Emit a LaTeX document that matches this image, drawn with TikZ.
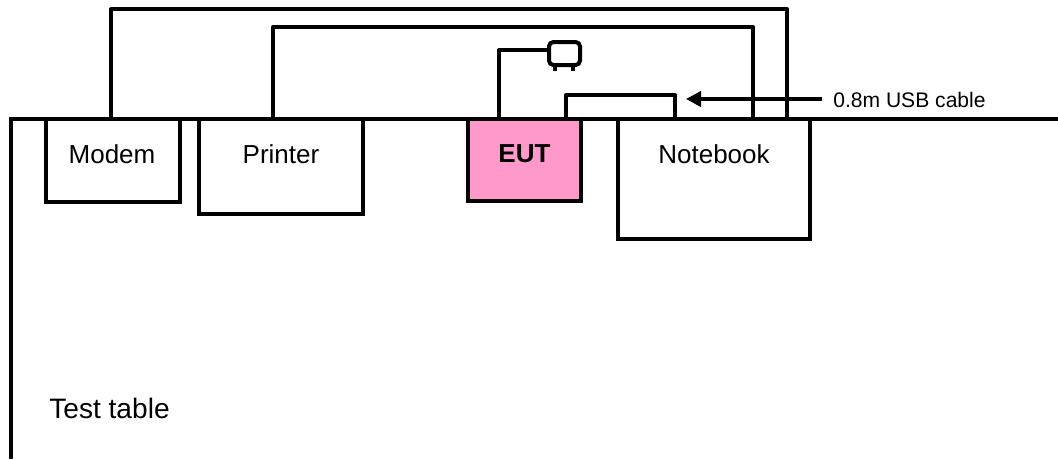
\documentclass[tikz,border=0pt]{standalone}
\usepackage{xcolor}
\usepackage{fontspec}
\setmainfont{Liberation Sans}
\usetikzlibrary{arrows.meta, positioning}
\definecolor{eutpink}{HTML}{FF99CC}

\begin{document}
\begin{tikzpicture}[
  x=0.25mm, y=-0.25mm,
  >={Stealth[length=3.75mm, width=3.8mm, inset=0pt]},
  box/.style={draw, line width=1mm, outer sep=0pt, inner sep=0pt},
  cable/.style={line width=1mm, line join=round},
  boxlbl/.style={font=\fontsize{18.5}{22}\selectfont, inner sep=0pt},
  notelbl/.style={font=\fontsize{15}{18}\selectfont, inner sep=0pt, anchor=west},
]
\useasboundingbox (0,0) rectangle (1058,459);
% table edge
\coordinate (tablefoot) at (11,459);
\coordinate (tableend) at (1058,119);
\draw[line width=0.9mm] (tablefoot) |- (tableend);
% equipment on the table
\node[box, minimum width=33.5mm, minimum height=20.75mm] (modem) at (113,160.5) {};
\node[box, minimum width=41mm, minimum height=23.75mm] (printer) at (281,166.5) {};
\node[box, fill=eutpink, minimum width=28.25mm, minimum height=20.5mm] (eut) at (524.5,160) {};
\node[box, minimum width=48mm, minimum height=30mm] (notebook) at (714,179) {};
\node[box, rounded corners=1.1mm, minimum width=7.75mm, minimum height=5.75mm] (screen) at (564.5,53.5) {};
\node[boxlbl] (modemlbl) at (112,154) {Modem};
\node[boxlbl] (printerlbl) at (281,154) {Printer};
\node[boxlbl, font=\fontsize{18.5}{22}\selectfont\bfseries] (eutlbl) at (524.5,154) {EUT};
\node[boxlbl] (notebooklbl) at (714,154) {Notebook};
\node[boxlbl, font=\fontsize{20}{24}\selectfont] (tablelbl) at (109.5,408) {Test table};
\node[notelbl] (usblbl) at (833,100) {0.8m USB cable};
% cable ends
\coordinate (modemport) at (111,119);
\coordinate (nbmodem) at (787,119);
\coordinate (printerport) at (273,119);
\coordinate (nbprinter) at (753,119);
\coordinate (eutport) at (499,119);
\coordinate (screenport) at (549,50);
\coordinate (usbeut) at (566,119);
\coordinate (usbnb) at (675,119);
\coordinate (usbmark) at (686,99);
\coordinate (footl) at (555,71);
\coordinate (footr) at (573,71);
% cables
\draw[cable] (modemport) -- (111,9) -- (787,9) -- (nbmodem);
\draw[cable] (printerport) -- (273,27) -- (753,27) -- (nbprinter);
\draw[cable] (eutport) |- (screenport);
\draw[cable] (usbeut) -- (566,95) -- (675,95) -- (usbnb);
\draw[line width=1mm] (footl |- screen.south) -- (footl);
\draw[line width=1mm] (footr |- screen.south) -- (footr);
% note arrow
\draw[->, line width=0.85mm] (usblbl.west |- usbmark) ++(-11,0) -- (usbmark);
\end{tikzpicture}
\end{document}
